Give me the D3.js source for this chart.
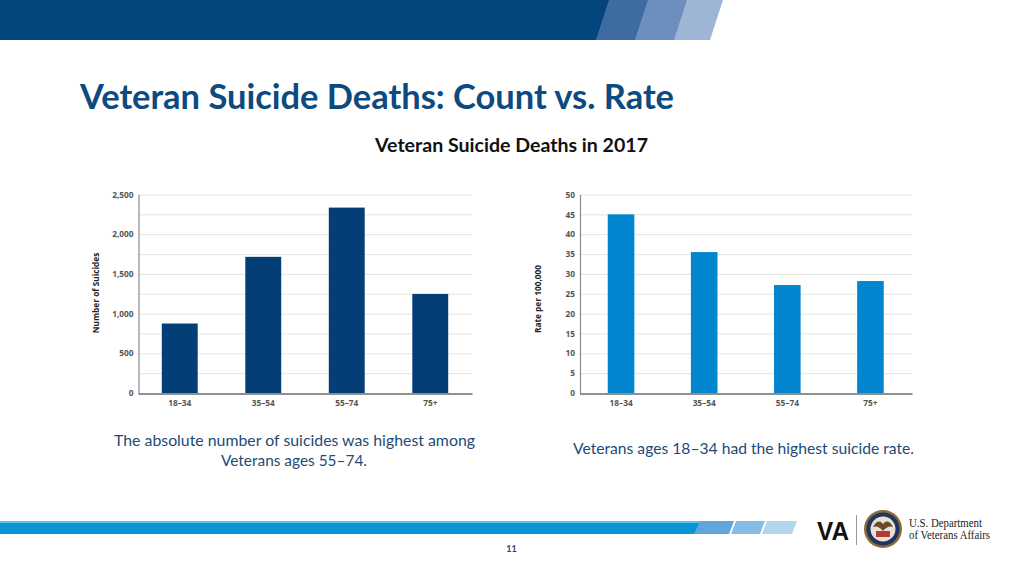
<!DOCTYPE html>
<html><head><meta charset="utf-8">
<script src="https://cdn.jsdelivr.net/npm/d3@7"></script>
<style>html,body{margin:0;padding:0;background:#fff;}svg{display:block;}</style>
</head><body>
<svg id="c" width="1024" height="576"></svg>
<script>
const categories = ["18–34", "35–54", "55–74", "75+"];
const countValues = [875, 1715, 2335, 1248];
const rateValues = [45.0, 35.5, 27.2, 28.2];
const countTicks = [0, 500, 1000, 1500, 2000, 2500];
const countGrid = [250, 500, 750, 1000, 1250, 1500, 1750, 2000, 2250, 2500];
const rateTicks = [0, 5, 10, 15, 20, 25, 30, 35, 40, 45, 50];

const svg = d3.select("#c");
const font = "Lato, 'Open Sans', sans-serif";
const tickFont = "'Open Sans', sans-serif";

// header band
const header = svg.append("g");
header.append("polygon").attr("points", "0,0 609.5,0 596.5,40 0,40").attr("fill", "#03467d");
header.append("polygon").attr("points", "609,0 648.5,0 635.5,40 596,40").attr("fill", "#3f6ba3");
header.append("polygon").attr("points", "648,0 687.5,0 674.5,40 635,40").attr("fill", "#6d8fbe");
header.append("polygon").attr("points", "687,0 723,0 710,40 674,40").attr("fill", "#9fb5d5");

// title
svg.append("text").attr("x", 80).attr("y", 109).text("Veteran Suicide Deaths: Count vs. Rate")
  .attr("font-family", font).attr("font-weight", 700).attr("font-size", 34).attr("fill", "#0c4a80")
  .attr("textLength", 594).attr("lengthAdjust", "spacingAndGlyphs");
svg.append("text").attr("x", 375).attr("y", 152).text("Veteran Suicide Deaths in 2017")
  .attr("font-family", font).attr("font-weight", 700).attr("font-size", 18.5).attr("fill", "#111")
  .attr("textLength", 273).attr("lengthAdjust", "spacingAndGlyphs");

function drawChart(cfg) {
  const g = svg.append("g");
  const x = d3.scaleBand().domain(categories).range([cfg.x0, cfg.x1])
    .paddingInner(cfg.pad).paddingOuter(cfg.pad / 2);
  const y = d3.scaleLinear().domain([0, cfg.max]).range([393, 194.5]);
  // grid
  g.append("g").selectAll("line").data(cfg.grid).join("line")
    .attr("x1", cfg.x0).attr("x2", cfg.x1)
    .attr("y1", d => y(d) + 0.5).attr("y2", d => y(d) + 0.5)
    .attr("stroke", "#e4e4e4").attr("stroke-width", 1);
  // bars
  g.append("g").selectAll("rect").data(cfg.values).join("rect")
    .attr("x", (d, i) => x(categories[i])).attr("width", x.bandwidth())
    .attr("y", d => y(d)).attr("height", d => y(0) - y(d))
    .attr("fill", cfg.color);
  // y axis
  const ya = d3.axisLeft(y).tickValues(cfg.ticks).tickSize(0).tickPadding(5).tickFormat(cfg.fmt);
  const yg = g.append("g").attr("transform", `translate(${cfg.x0 + 0.5},0)`).call(ya);
  yg.select(".domain").attr("stroke", "#8a8a8a").attr("stroke-width", 1.2);
  yg.selectAll("text").attr("font-family", tickFont).attr("font-weight", 700).attr("font-size", 8.3).attr("fill", "#555");
  // x axis
  const xa = d3.axisBottom(x).tickSize(0).tickPadding(7);
  const xg = g.append("g").attr("transform", `translate(0,${y(0) + 0.5})`).call(xa);
  xg.select(".domain").attr("stroke", "#6a6a6a").attr("stroke-width", 1.5);
  xg.selectAll("text").attr("font-family", tickFont).attr("font-weight", 700).attr("font-size", 8.3).attr("fill", "#555");
  // y title
  g.append("text").attr("transform", `translate(${cfg.tx},${cfg.ty}) rotate(-90)`)
    .attr("text-anchor", "middle").text(cfg.title)
    .attr("font-family", tickFont).attr("font-weight", 700).attr("font-size", 8.3).attr("fill", "#222");
}

drawChart({x0: 138, x1: 472, pad: 0.57, max: 2500, values: countValues, ticks: countTicks,
  grid: countGrid, color: "#033f76", fmt: d3.format(","), title: "Number of Suicides", tx: 98.5, ty: 293});
drawChart({x0: 579.5, x1: 912, pad: 0.68, max: 50, values: rateValues, ticks: rateTicks,
  grid: rateTicks.slice(1), color: "#0286cf", fmt: d3.format("d"), title: "Rate per 100,000", tx: 540.5, ty: 299});

// captions
const cap = {family: font, size: 15, fill: "#1d4b77"};
function caption(x, y, t, w) {
  svg.append("text").attr("x", x).attr("y", y).attr("text-anchor", "middle").text(t)
    .attr("font-family", cap.family).attr("font-size", cap.size).attr("fill", cap.fill)
    .attr("textLength", w).attr("lengthAdjust", "spacingAndGlyphs");
}
caption(294.5, 446, "The absolute number of suicides was highest among", 361);
caption(294, 466, "Veterans ages 55–74.", 146);
caption(743.5, 454, "Veterans ages 18–34 had the highest suicide rate.", 341);

// bottom bar
const foot = svg.append("g");
foot.append("rect").attr("x", 0).attr("y", 521).attr("width", 700).attr("height", 13).attr("fill", "#0a94d3");
foot.append("rect").attr("x", 0).attr("y", 521).attr("width", 700).attr("height", 2).attr("fill", "#5cc3ea");
foot.append("polygon").attr("points", "694,534 700,521 734,521 729,534").attr("fill", "#5ea6dc");
foot.append("polygon").attr("points", "731,534 736,521 765,521 760,534").attr("fill", "#86bde6");
foot.append("polygon").attr("points", "762,534 767,521 797,521 792,534").attr("fill", "#b4d5ee");

// logo
const logo = svg.append("g");
logo.append("text").attr("x", 817).attr("y", 540).text("VA")
  .attr("font-family", "'Liberation Sans', Arial, sans-serif").attr("font-weight", 700)
  .attr("font-size", 25).attr("fill", "#111").attr("textLength", 32).attr("lengthAdjust", "spacingAndGlyphs");
logo.append("line").attr("x1", 856.5).attr("x2", 856.5).attr("y1", 515).attr("y2", 545).attr("stroke", "#999");
logo.append("circle").attr("cx", 883).attr("cy", 529).attr("r", 19).attr("fill", "#8a6a3a");
logo.append("circle").attr("cx", 883).attr("cy", 529).attr("r", 16.5).attr("fill", "#1f3364");
logo.append("circle").attr("cx", 883).attr("cy", 529).attr("r", 12.5).attr("fill", "#e8e0d0");
logo.append("path").attr("d", "M873,527 Q878,518 883,524 Q888,518 893,527 Q888,525 883,531 Q878,525 873,527Z").attr("fill", "#6b4a2a");
logo.append("rect").attr("x", 876).attr("y", 531).attr("width", 14).attr("height", 6).attr("fill", "#b33a3a");
logo.append("text").attr("x", 909).attr("y", 527).text("U.S. Department")
  .attr("font-family", "'Liberation Serif', 'DejaVu Serif', serif").attr("font-size", 11.5).attr("fill", "#222")
  .attr("textLength", 73).attr("lengthAdjust", "spacingAndGlyphs");
logo.append("text").attr("x", 909).attr("y", 539).text("of Veterans Affairs")
  .attr("font-family", "'Liberation Serif', 'DejaVu Serif', serif").attr("font-size", 11.5).attr("fill", "#222")
  .attr("textLength", 81).attr("lengthAdjust", "spacingAndGlyphs");

svg.append("text").attr("x", 511.5).attr("y", 552).attr("text-anchor", "middle").text("11")
  .attr("font-family", font).attr("font-weight", 700).attr("font-size", 9).attr("fill", "#1d4b77");
</script>
</body></html>
